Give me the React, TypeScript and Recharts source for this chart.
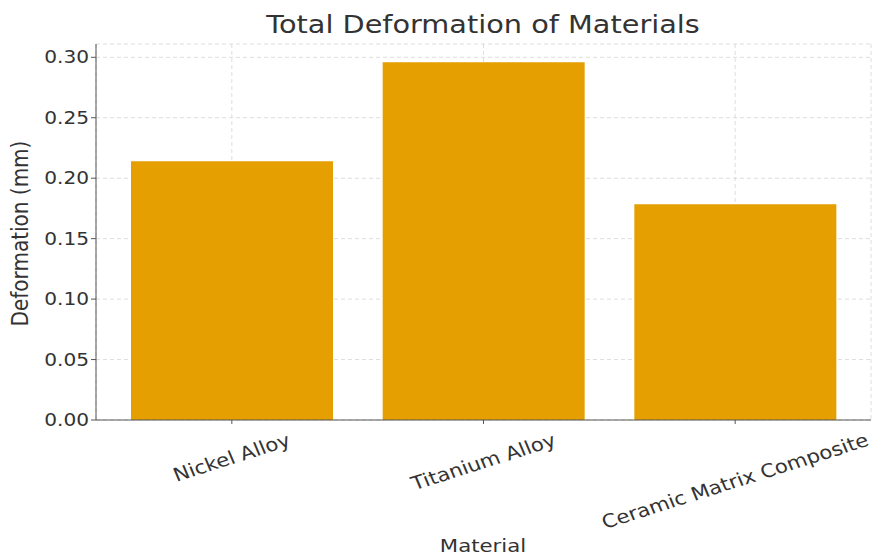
import React from 'react';
import { BarChart, Bar, XAxis, YAxis, CartesianGrid } from 'recharts';

const materials = ['Nickel Alloy', 'Titanium Alloy', 'Ceramic Matrix Composite'];
const deformation = [0.214, 0.296, 0.1785];
const yTicks = [0, 0.05, 0.1, 0.15, 0.2, 0.25, 0.3];

const data = materials.map((name, i) => ({ name, value: deformation[i] }));

const FONT = '"DejaVu Sans", sans-serif';
const XTICK = 18.5;
const YTICK = 17.5;
const SX = 1.15; // reference text looks horizontally stretched

let ctx: CanvasRenderingContext2D | null = null;
const measure = (s: string, size: number) => {
  if (!ctx) ctx = document.createElement('canvas').getContext('2d');
  if (!ctx) return s.length * size * 0.6;
  ctx.font = `${size}px "DejaVu Sans"`;
  return ctx.measureText(s).width;
};

const XTick = (props: any) => {
  const { x, y, payload } = props;
  const w = measure(payload.value, XTICK);
  const a = (20 * Math.PI) / 180;
  const dy = 7 + (w * Math.sin(a) + 0.75 * XTICK * Math.cos(a)) / 2;
  return (
    <g transform={`translate(${x},${y + dy}) scale(${SX},1) rotate(-20)`}>
      <text textAnchor="middle" dominantBaseline="central" fontFamily={FONT} fontSize={XTICK} fill="#333">
        {payload.value}
      </text>
    </g>
  );
};

const YTickLabel = (props: any) => {
  const { x, y, payload } = props;
  return (
    <g transform={`translate(${x},${y}) scale(${SX},1)`}>
      <text textAnchor="end" dominantBaseline="central" fontFamily={FONT} fontSize={YTICK} fill="#333">
        {Number(payload.value).toFixed(2)}
      </text>
    </g>
  );
};

const App: React.FC = () => {
  return (
    <div style={{ position: 'absolute', left: 0, top: 0, width: 873, height: 556, background: '#fff' }}>
      <BarChart
        width={873}
        height={556}
        data={data}
        margin={{ top: 44, right: 2, bottom: 0, left: 0 }}
        barSize={202}
      >
        <Bar dataKey="value" fill="#E69F00" isAnimationActive={false} />
        <CartesianGrid stroke="#d4d4d4" strokeDasharray="4 3" strokeOpacity={0.8} />
        <XAxis
          dataKey="name"
          height={136}
          padding={{ left: 10, right: 10 }}
          stroke="#555"
          tickSize={4}
          tick={<XTick />}
          interval={0}
        />
        <YAxis
          width={96}
          domain={[0, 0.311]}
          ticks={yTicks}
          stroke="#555"
          tickSize={5}
          tick={<YTickLabel />}
        />
      </BarChart>
      <svg
        width={873}
        height={556}
        style={{ position: 'absolute', left: 0, top: 0, pointerEvents: 'none' }}
      >
        <g transform={`translate(483,33) scale(${SX},1)`}>
          <text textAnchor="middle" fontFamily={FONT} fontSize={25} fill="#333">
            Total Deformation of Materials
          </text>
        </g>
        <g transform={`translate(483,551.5) scale(${SX},1)`}>
          <text textAnchor="middle" fontFamily={FONT} fontSize={18.5} fill="#333">
            Material
          </text>
        </g>
        <g transform={`translate(20,233.5) scale(${SX},1) rotate(-90)`}>
          <text textAnchor="middle" dominantBaseline="central" fontFamily={FONT} fontSize={20} fill="#333">
            Deformation (mm)
          </text>
        </g>
      </svg>
    </div>
  );
};

export default App;
